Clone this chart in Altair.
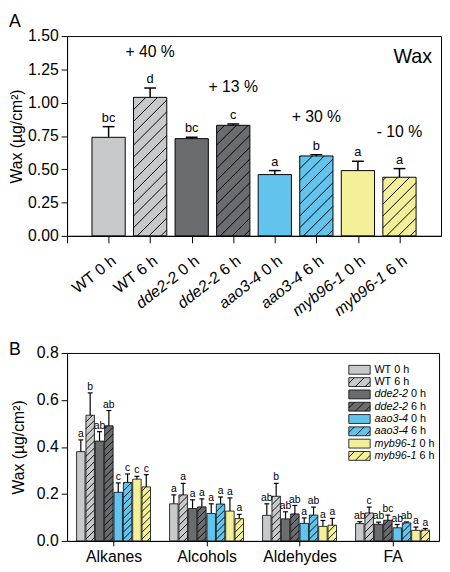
import altair as alt
import numpy as np
import pandas as pd

FONT = "Liberation Sans"

# ---------------- data ----------------
genotypes = ["WT", "dde2-2", "aao3-4", "myb96-1"]
times = ["0 h", "6 h"]
genotype_colors = ["#c8c9cb", "#6b6c6f", "#62c3ec", "#f4f09a"]

# Panel A: total wax
a_mean = [0.74, 1.04, 0.73, 0.83, 0.46, 0.60, 0.49, 0.44]
a_err = [0.08, 0.07, 0.01, 0.01, 0.03, 0.01, 0.07, 0.065]
a_letters = ["bc", "d", "bc", "c", "a", "b", "a", "a"]
a_change = ["+ 40 %", "+ 13 %", "+ 30 %", "- 10 %"]
a_change_y = [1.38, 1.12, 0.89, 0.78]

# Panel B: wax classes
fractions = ["Alkanes", "Alcohols", "Aldehydes", "FA"]
b_alkanes = [0.38, 0.535, 0.425, 0.49, 0.207, 0.249, 0.263, 0.23]
b_alkanes_err = [0.05, 0.095, 0.04, 0.065, 0.04, 0.036, 0.012, 0.052]
b_alcohols = [0.158, 0.196, 0.138, 0.145, 0.117, 0.157, 0.127, 0.095]
b_alcohols_err = [0.038, 0.049, 0.037, 0.034, 0.041, 0.03, 0.056, 0.018]
b_aldehydes = [0.109, 0.19, 0.094, 0.115, 0.075, 0.11, 0.062, 0.067]
b_aldehydes_err = [0.049, 0.055, 0.03, 0.036, 0.023, 0.034, 0.025, 0.029]
b_fa = [0.074, 0.119, 0.071, 0.088, 0.056, 0.077, 0.045, 0.046]
b_fa_err = [0.008, 0.025, 0.009, 0.022, 0.014, 0.004, 0.014, 0.007]
b_letters_alkanes = ["a", "b", "ab", "ab", "c", "c", "c", "c"]
b_letters_alcohols = ["a", "a", "a", "a", "a", "a", "a", "a"]
b_letters_aldehydes = ["ab", "b", "ab", "ab", "a", "ab", "a", "a"]
b_letters_fa = ["ab", "c", "ab", "bc", "ab", "ab", "a", "a"]

# ---------------- layout ----------------
WA, HA = 380, 203
WB, HB = 378, 191
XA_DOM, YA_DOM = [0, 9], [0, 1.5]
XB_DOM, YB_DOM = [-0.5, 3.5], [0, 0.8]
kxA, kyA = WA / (XA_DOM[1] - XA_DOM[0]), HA / (YA_DOM[1] - YA_DOM[0])
kxB, kyB = WB / (XB_DOM[1] - XB_DOM[0]), HB / (YB_DOM[1] - YB_DOM[0])

# Arial / Liberation Sans advance widths (per 1000 em)
ADV = {' ': 278, '-': 333, 'a': 556, 'b': 556, 'd': 556, 'e': 556, 'h': 556,
       'm': 833, 'o': 556, 'y': 500, 'W': 944, 'T': 611}
for c in "0123456789":
    ADV[c] = 556


def text_width(s, size):
    return sum(ADV.get(c, 556) for c in s) * size / 1000.0


def hatch(x0, x1, y0, y1, kx, ky, sp):
    """45-degree '/' hatch lines (in pixel space) clipped to a rectangle, returned in data units."""
    bw, bh = (x1 - x0) * kx, (y1 - y0) * ky
    rows = []
    d = -bw + sp / 2.0
    while d < bh:
        xs, xe = max(0.0, -d), min(bw, bh - d)
        if xe - xs > 0.3:
            rows.append(dict(hx=x0 + xs / kx, hy=y0 + (xs + d) / ky,
                             hx2=x0 + xe / kx, hy2=y0 + (xe + d) / ky))
        d += sp
    return rows


# ---------------- panel A tables ----------------
rowsA, hatchA = [], []
for i in range(8):
    g, t = genotypes[i // 2], times[i % 2]
    pos = i + 1
    rowsA.append(dict(pos=pos, x0=pos - 0.4, x1=pos + 0.4, genotype=g, time=t,
                      mean=a_mean[i], top=a_mean[i] + a_err[i], letter=a_letters[i],
                      zero=0.0, style="normal" if g == "WT" else "italic"))
    if t == "6 h":
        hatchA += hatch(pos - 0.4, pos + 0.4, 0.0, a_mean[i], kxA, kyA, 12)
dfA = pd.DataFrame(rowsA)
dfHA = pd.DataFrame(hatchA)
dfChangeA = pd.DataFrame(dict(pos=[2, 4, 6, 8], ypos=a_change_y, label=a_change))

sxA = alt.Scale(domain=XA_DOM, nice=False, zero=False)
syA = alt.Scale(domain=YA_DOM, nice=False, zero=False)
axXA = alt.Axis(values=list(range(9)), labels=False, tickSize=7, title=None, grid=False)
axYA = alt.Axis(values=[0, 0.25, 0.5, 0.75, 1.0, 1.25, 1.5], format=".2f",
                title="Wax (µg/cm²)", grid=False, titlePadding=3)


def XA(f):
    return alt.X(f, type="quantitative", scale=sxA, axis=axXA)


def YA(f):
    return alt.Y(f, type="quantitative", scale=syA, axis=axYA)


colorEnc = alt.Color("genotype:N", scale=alt.Scale(domain=genotypes, range=genotype_colors), legend=None)

barsA = alt.Chart(dfA).mark_bar(stroke="black", strokeWidth=1).encode(
    x=XA("x0"), x2="x1:Q", y=YA("mean"), y2="zero:Q", color=colorEnc)
hatchLayerA = alt.Chart(dfHA).mark_rule(color="black", strokeWidth=1).encode(
    x=XA("hx"), y=YA("hy"), x2="hx2:Q", y2="hy2:Q")
errA = alt.Chart(dfA).mark_rule(color="black", strokeWidth=1.5).encode(
    x=XA("pos"), y=YA("mean"), y2="top:Q")
capA = alt.Chart(dfA).mark_tick(color="black", orient="horizontal", size=12, thickness=1.5, opacity=1).encode(
    x=XA("pos"), y=YA("top"))
lettersA = alt.Chart(dfA).mark_text(font=FONT, fontSize=13, baseline="alphabetic", dy=-5, color="black").encode(
    x=XA("pos"), y=YA("top"), text="letter:N")

LAB_DX, LAB_DY, LAB_ANGLE = -10, 22, 322
time_w = text_width(" 0 h", 16)
xlabTime = alt.Chart(dfA).mark_text(font=FONT, fontSize=16, angle=LAB_ANGLE, align="right",
                                    baseline="middle", dx=LAB_DX, dy=LAB_DY, color="black").encode(
    x=XA("pos"), y=YA("zero"), text="time:N")
xlabGenoN = alt.Chart(dfA).transform_filter(alt.datum.style == "normal").mark_text(
    font=FONT, fontSize=16, angle=LAB_ANGLE, align="right", baseline="middle",
    dx=LAB_DX - time_w, dy=LAB_DY, color="black").encode(
    x=XA("pos"), y=YA("zero"), text="genotype:N")
xlabGenoI = alt.Chart(dfA).transform_filter(alt.datum.style == "italic").mark_text(
    font=FONT, fontSize=16, fontStyle="italic", angle=LAB_ANGLE, align="right", baseline="middle",
    dx=LAB_DX - time_w, dy=LAB_DY, color="black").encode(
    x=XA("pos"), y=YA("zero"), text="genotype:N")
changeA = alt.Chart(dfChangeA).mark_text(font=FONT, fontSize=16, baseline="middle", color="black").encode(
    x=XA("pos"), y=YA("ypos"), text="label:N")
waxTitle = alt.Chart(pd.DataFrame(dict(t=["Wax"]))).mark_text(
    font=FONT, fontSize=20, align="right", baseline="middle", color="black").encode(
    x=alt.value(WA - 9), y=alt.value(21), text="t:N")
panelA = alt.Chart(pd.DataFrame(dict(t=["A"]))).mark_text(
    font=FONT, fontSize=18, align="left", baseline="top", color="black").encode(
    x=alt.value(-59), y=alt.value(-23), text="t:N")

chartA = alt.layer(barsA, hatchLayerA, errA, capA, lettersA, xlabTime, xlabGenoN, xlabGenoI,
                   changeA, waxTitle, panelA).properties(width=WA, height=HA)

# ---------------- panel B tables ----------------
b_means = [b_alkanes, b_alcohols, b_aldehydes, b_fa]
b_errs = [b_alkanes_err, b_alcohols_err, b_aldehydes_err, b_fa_err]
b_letters = [b_letters_alkanes, b_letters_alcohols, b_letters_aldehydes, b_letters_fa]
pitch = 9.5 / kxB
barw = 8.6 / kxB
rowsB, hatchB = [], []
for gi in range(4):
    for k in range(8):
        g, t = genotypes[k // 2], times[k % 2]
        pos = gi + (k - 3.5) * pitch
        m = b_means[gi][k]
        rowsB.append(dict(pos=pos, x0=pos - barw / 2, x1=pos + barw / 2, genotype=g, time=t,
                          mean=m, top=m + b_errs[gi][k], letter=b_letters[gi][k], zero=0.0))
        if t == "6 h":
            hatchB += hatch(pos - barw / 2, pos + barw / 2, 0.0, m, kxB, kyB, 7)
dfB = pd.DataFrame(rowsB)

# legend (inside plot, upper right), pixel layout converted to data units
LEG_X0, LEG_X1, LEG_Y0, LEG_PITCH, LEG_H, LEG_FS = 286.3, 308.0, 12.6, 12.5, 9.0, 11
legRows, legLab = [], []
for k in range(8):
    g, t = genotypes[k // 2], times[k % 2]
    top_px = LEG_Y0 + LEG_PITCH * k
    x0 = XB_DOM[0] + LEG_X0 / kxB
    x1 = XB_DOM[0] + LEG_X1 / kxB
    y1 = YB_DOM[1] - top_px / kyB
    y0 = YB_DOM[1] - (top_px + LEG_H) / kyB
    legRows.append(dict(x0=x0, x1=x1, y0=y0, y1=y1, genotype=g))
    if t == "6 h":
        hatchB += hatch(x0, x1, y0, y1, kxB, kyB, 10)
    lx = XB_DOM[0] + (LEG_X1 + 4.3) / kxB
    ly = YB_DOM[1] - (top_px + LEG_H / 2) / kyB
    tx = lx + (text_width(g, LEG_FS) + text_width(" ", LEG_FS)) / kxB
    legLab.append(dict(lx=lx, ly=ly, tx=tx, genotype=g, time=t,
                       style="normal" if g == "WT" else "italic"))
dfLeg = pd.DataFrame(legRows)
dfLegLab = pd.DataFrame(legLab)
dfHB = pd.DataFrame(hatchB)

sxB = alt.Scale(domain=XB_DOM, nice=False, zero=False)
syB = alt.Scale(domain=YB_DOM, nice=False, zero=False)
label_expr = "[" + ",".join("'%s'" % f for f in fractions) + "][datum.value]"
axXB = alt.Axis(values=list(range(len(fractions))), labelExpr=label_expr, tickSize=5,
                title=None, grid=False, labelPadding=3)
axYB = alt.Axis(values=[0, 0.2, 0.4, 0.6, 0.8], format=".1f", title="Wax (µg/cm²)",
                grid=False, titlePadding=10)


def XB(f):
    return alt.X(f, type="quantitative", scale=sxB, axis=axXB)


def YB(f):
    return alt.Y(f, type="quantitative", scale=syB, axis=axYB)


barsB = alt.Chart(dfB).mark_bar(stroke="black", strokeWidth=0.8).encode(
    x=XB("x0"), x2="x1:Q", y=YB("mean"), y2="zero:Q", color=colorEnc)
legSw = alt.Chart(dfLeg).mark_bar(stroke="black", strokeWidth=0.8).encode(
    x=XB("x0"), x2="x1:Q", y=YB("y0"), y2="y1:Q", color=colorEnc)
hatchLayerB = alt.Chart(dfHB).mark_rule(color="black", strokeWidth=0.9).encode(
    x=XB("hx"), y=YB("hy"), x2="hx2:Q", y2="hy2:Q")
errB = alt.Chart(dfB).mark_rule(color="black", strokeWidth=1.2).encode(
    x=XB("pos"), y=YB("mean"), y2="top:Q")
capB = alt.Chart(dfB).mark_tick(color="black", orient="horizontal", size=5, thickness=1.2, opacity=1).encode(
    x=XB("pos"), y=YB("top"))
lettersB = alt.Chart(dfB).mark_text(font=FONT, fontSize=10.5, baseline="alphabetic", dy=-3, color="black").encode(
    x=XB("pos"), y=YB("top"), text="letter:N")
legGenoN = alt.Chart(dfLegLab).transform_filter(alt.datum.style == "normal").mark_text(
    font=FONT, fontSize=LEG_FS, align="left", baseline="middle", color="black").encode(
    x=XB("lx"), y=YB("ly"), text="genotype:N")
legGenoI = alt.Chart(dfLegLab).transform_filter(alt.datum.style == "italic").mark_text(
    font=FONT, fontSize=LEG_FS, fontStyle="italic", align="left", baseline="middle", color="black").encode(
    x=XB("lx"), y=YB("ly"), text="genotype:N")
legTime = alt.Chart(dfLegLab).mark_text(
    font=FONT, fontSize=LEG_FS, align="left", baseline="middle", color="black").encode(
    x=XB("tx"), y=YB("ly"), text="time:N")
panelB = alt.Chart(pd.DataFrame(dict(t=["B"]))).mark_text(
    font=FONT, fontSize=18, align="left", baseline="top", color="black").encode(
    x=alt.value(-59), y=alt.value(-12), text="t:N")

chartB = alt.layer(barsB, legSw, hatchLayerB, errB, capB, lettersB, legGenoN, legGenoI, legTime,
                   panelB).properties(width=WB, height=HB)

chart = alt.vconcat(chartA, chartB, spacing=20).properties(padding=0).configure_view(
    stroke="black", strokeWidth=1
).configure_axis(
    labelFont=FONT, titleFont=FONT, labelFontSize=16, titleFontSize=16, titleFontWeight="normal",
    labelColor="black", titleColor="black", domainColor="black", tickColor="black",
    tickSize=6, labelPadding=3, domainWidth=1, tickWidth=1
)

chart.save("out.html", embed_options={"renderer": "svg", "actions": False})
